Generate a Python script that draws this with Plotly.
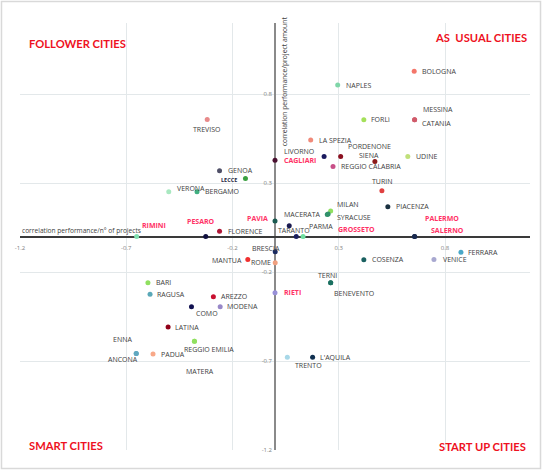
import plotly.graph_objects as go

# ---------------- data ----------------
cities = ["BOLOGNA", "NAPLES", "FORLì", "MESSINA", "CATANIA", "TREVISO", "LA SPEZIA",
          "LIVORNO", "PORDENONE", "SIENA", "UDINE", "CAGLIARI", "REGGIO CALABRIA",
          "GENOA", "LECCE", "VERONA", "BERGAMO", "TURIN", "PIACENZA", "MILAN",
          "SYRACUSE", "MACERATA", "PAVIA", "TARANTO", "PARMA", "GROSSETO",
          "PALERMO", "SALERNO", "RIMINI", "PESARO", "FLORENCE", "BRESCIA", "ROME",
          "MANTUA", "FERRARA", "VENICE", "COSENZA", "BARI", "RAGUSA", "AREZZO",
          "COMO", "MODENA", "LATINA", "REGGIO EMILIA", "ANCONA", "ENNA", "PADUA",
          "MATERA", "TERNI", "BENEVENTO", "RIETI", "TRENTO", "L'AQUILA"]

perf_n_projects = [0.655, 0.295, 0.418, 0.657, 0.657, -0.319, 0.168,
                   0.231, 0.309, 0.470, 0.625, 0.0, 0.273,
                   -0.261, -0.139, -0.500, -0.367, 0.503, 0.531, 0.262,
                   0.250, 0.246, 0.0, 0.067, 0.100, 0.132,
                   0.657, 0.657, -0.651, -0.326, -0.261, 0.001, 0.001,
                   -0.128, 0.875, 0.748, 0.418, -0.598, -0.588, -0.290,
                   -0.393, -0.258, -0.503, -0.379, -0.653, -0.653, -0.574,
                   -0.379, 0.262, 0.262, 0.0, 0.058, 0.177]

perf_amount = [0.929, 0.851, 0.656, 0.656, 0.656, 0.658, 0.542,
               0.449, 0.449, 0.422, 0.450, 0.429, 0.394,
               0.369, 0.326, 0.251, 0.251, 0.257, 0.167, 0.144,
               0.126, 0.124, 0.087, 0.060, 0.0, 0.0,
               0.0, 0.0, 0.0, 0.0, 0.030, -0.086, -0.148,
               -0.129, -0.088, -0.129, -0.131, -0.260, -0.324, -0.339,
               -0.395, -0.395, -0.509, -0.589, -0.658, -0.658, -0.661,
               -0.589, -0.260, -0.260, -0.316, -0.678, -0.678]

tick_values = [-1.2, -0.7, -0.2, 0.3, 0.8]
tick_labels = ["-1.2", "-0.7", "-0.2", "0.3", "0.8"]

quadrant_labels = ["FOLLOWER CITIES", "AS  USUAL CITIES", "SMART CITIES", "START UP CITIES"]
x_title = "correlation performance/n° of projects"
y_title = "correlation performance/project amount"

# cities lying on an axis (highlighted labels)
highlighted = {"CAGLIARI", "PAVIA", "GROSSETO", "PALERMO", "SALERNO", "RIMINI", "PESARO", "RIETI"}

# ---------------- style ----------------
marker_colors = {
    "BOLOGNA": "#f4766a", "NAPLES": "#7fd6a8", "FORLì": "#a4e05a", "MESSINA": "#d05a6a",
    "CATANIA": "#d05a6a", "TREVISO": "#e88a8a", "LA SPEZIA": "#f08a7a", "LIVORNO": "#1a1a5e",
    "PORDENONE": "#8b1020", "SIENA": "#8b1a1a", "UDINE": "#c0e07a", "CAGLIARI": "#4a1030",
    "REGGIO CALABRIA": "#c85088", "GENOA": "#505068", "LECCE": "#3aa040", "VERONA": "#a8e8c0",
    "BERGAMO": "#40b080", "TURIN": "#e04040", "PIACENZA": "#1a3040", "MILAN": "#90e060",
    "SYRACUSE": "#30906a", "MACERATA": "#30906a", "PAVIA": "#1a5a50", "TARANTO": "#1a1a50",
    "PARMA": "#1a2060", "GROSSETO": "#70e0a0", "PALERMO": "#1a2a50", "SALERNO": "#1a2a50",
    "RIMINI": "#80e0b0", "PESARO": "#101040", "FLORENCE": "#b01838", "BRESCIA": "#1a2a60",
    "ROME": "#f0a080", "MANTUA": "#f03030", "FERRARA": "#4aa8c8", "VENICE": "#a8a8d0",
    "COSENZA": "#1a6060", "BARI": "#90e060", "RAGUSA": "#5aa8b8", "AREZZO": "#c81030",
    "COMO": "#101050", "MODENA": "#9888c8", "LATINA": "#900018", "REGGIO EMILIA": "#90e060",
    "ANCONA": "#60a8c0", "ENNA": "#60a8c0", "PADUA": "#f8a888", "MATERA": "#90e060",
    "TERNI": "#1a7060", "BENEVENTO": "#1a7060", "RIETI": "#9890d8", "TRENTO": "#a8d8e8",
    "L'AQUILA": "#103050",
}

# label placement: (anchor, x offset px, y offset px (up positive))
label_pos = {
    "BOLOGNA": ("left", 6, 0), "NAPLES": ("left", 6, 0), "FORLì": ("left", 5, 0),
    "MESSINA": ("left", 6, 10), "CATANIA": ("left", 5, -3.6), "TREVISO": ("center", 0, -10),
    "LA SPEZIA": ("left", 6, 0), "LIVORNO": ("right", -7, 5.5), "PORDENONE": ("left", 5, 10.5),
    "SIENA": ("center", -5.7, 5.6), "UDINE": ("left", 6, 0), "CAGLIARI": ("left", 7, 0),
    "REGGIO CALABRIA": ("left", 6, 0), "GENOA": ("left", 6.5, 0), "LECCE": ("right", -6, -1),
    "VERONA": ("left", 6, 3.4), "BERGAMO": ("left", 6, 0), "TURIN": ("center", 0.5, 9),
    "PIACENZA": ("left", 6, 0), "MILAN": ("left", 4.7, 6.4), "SYRACUSE": ("left", 6.7, -3.7),
    "MACERATA": ("right", -4, 0), "PAVIA": ("right", -4.6, 2.7), "TARANTO": ("center", 4.5, -4.6),
    "PARMA": ("left", 11, 10), "GROSSETO": ("left", 33.4, 7.4), "PALERMO": ("left", 8.3, 17.7),
    "SALERNO": ("left", 14.3, 6.4), "RIMINI": ("left", 3, 10.8), "PESARO": ("center", -4.8, 14.7),
    "FLORENCE": ("left", 6, 0), "BRESCIA": ("center", -8.9, 3.4), "ROME": ("right", -2, 0),
    "MANTUA": ("right", -3.5, -1), "FERRARA": ("left", 5, 0), "VENICE": ("left", 7, 0),
    "COSENZA": ("left", 5.7, 0), "BARI": ("left", 5.7, 0), "RAGUSA": ("left", 4.7, 0),
    "AREZZO": ("left", 5.3, 0), "COMO": ("left", 3, -6.6), "MODENA": ("left", 5.3, 0),
    "LATINA": ("left", 5, 0), "REGGIO EMILIA": ("left", -12.3, -8), "ANCONA": ("center", -13.5, -5.8),
    "ENNA": ("center", -13.7, 14.5), "PADUA": ("left", 5.6, 0), "MATERA": ("center", 5.2, -30.4),
    "TERNI": ("center", -3.5, 7), "BENEVENTO": ("left", 1, -10.6), "RIETI": ("left", 6.6, 0),
    "TRENTO": ("left", 5.3, -8), "L'AQUILA": ("left", 5, 0),
}

LABEL_FONT = "Open Sans, Noto Sans, sans-serif"
QUAD_FONT = "Lato, sans-serif"
QUAD_RED = "#ee1122"
PINK = "#ff3366"
GRAY_TXT = "#404040"

fig = go.Figure()
fig.add_trace(go.Scatter(
    x=perf_n_projects, y=perf_amount, mode="markers",
    marker=dict(size=5, color=[marker_colors[c] for c in cities], line=dict(width=0)),
    text=cities, hoverinfo="text", showlegend=False,
))

annotations = []
for c, xv, yv in zip(cities, perf_n_projects, perf_amount):
    anchor, dx, dy = label_pos[c]
    if c in highlighted:
        font = dict(family=LABEL_FONT, size=7, color=PINK, weight="bold")
    elif c == "LECCE":
        font = dict(family=LABEL_FONT, size=5.5, color="#1f2a44", weight="bold")
    else:
        font = dict(family=LABEL_FONT, size=7, color=GRAY_TXT)
    annotations.append(dict(x=xv, y=yv, xref="x", yref="y", text=c, showarrow=False,
                            xanchor=anchor, yanchor="middle", xshift=dx, yshift=dy,
                            font=font))

# axis titles
annotations.append(dict(x=-1.2, y=0, xref="x", yref="y", text=x_title, showarrow=False,
                        xanchor="left", yanchor="middle", yshift=6,
                        font=dict(family=LABEL_FONT, size=6.6, color=GRAY_TXT)))
annotations.append(dict(x=0, y=0.873, xref="x", yref="y", text=y_title, showarrow=False,
                        xanchor="center", yanchor="middle", xshift=9, textangle=-90,
                        font=dict(family=LABEL_FONT, size=6.8, color=GRAY_TXT)))

# quadrant labels
quad_pos = [(0.0133, 0.953, "left"), (0.998, 0.967, "right"),
            (0.0133, 0.0094, "left"), (0.996, 0.008, "right")]
for txt, (px, py, xa) in zip(quadrant_labels, quad_pos):
    annotations.append(dict(x=px, y=py, xref="paper", yref="paper", text=txt, showarrow=False,
                            xanchor=xa, yanchor="middle",
                            font=dict(family=QUAD_FONT, size=11.2, color=QUAD_RED, weight="bold")))

axis_common = dict(range=[-1.2, 1.2], tickvals=tick_values, ticktext=tick_labels,
                   showgrid=True, gridcolor="#e3e8ea", gridwidth=1,
                   showline=False, ticks="", anchor="free", position=0.5,
                   tickfont=dict(family=LABEL_FONT, size=6, color="#808080"),
                   fixedrange=True)

fig.update_layout(
    width=543, height=470,
    margin=dict(l=20, r=13, t=23, b=20),
    paper_bgcolor="white", plot_bgcolor="white",
    xaxis=dict(**axis_common, zeroline=True, zerolinecolor="#8a8a8a", zerolinewidth=2,
               ticklabelstandoff=6),
    yaxis=dict(**axis_common, zeroline=True, zerolinecolor="#3a3a3a", zerolinewidth=1.5,
               ticklabelstandoff=3),
    annotations=annotations,
    shapes=[dict(type="rect", xref="paper", yref="paper",
                 x0=-0.0363, x1=1.0206, y0=-0.0433, y1=1.0504,
                 line=dict(color="#d9d9d9", width=1.5), fillcolor="rgba(0,0,0,0)",
                 layer="below")],
)

fig.write_html("out.html", config={"displayModeBar": False},
               post_script="document.body.style.margin='0';document.body.style.overflow='hidden';")
